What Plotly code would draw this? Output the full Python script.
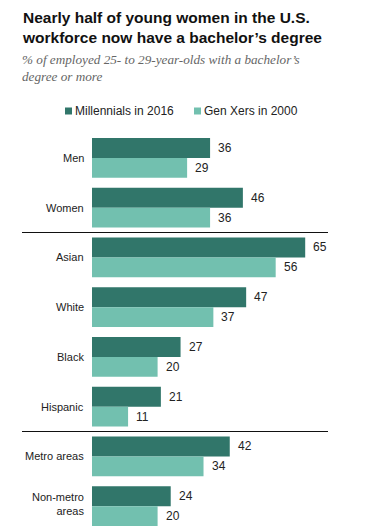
import plotly.graph_objects as go

# ---- data ----
categories = ["Men", "Women", "Asian", "White", "Black", "Hispanic",
              "Metro areas", "Non-metro<br>areas"]
millennials_2016 = [36, 46, 65, 47, 27, 21, 42, 24]
genx_2000 = [29, 36, 56, 37, 20, 11, 34, 20]
series_names = ["Millennials in 2016", "Gen Xers in 2000"]
separators_after = [1, 5]  # index of category after which a rule is drawn

title_text = "Nearly half of young women in the U.S.<br>workforce now have a bachelor’s degree"
subtitle_text = "% of employed 25- to 29-year-olds with a bachelor’s<br>degree or more"

# ---- style ----
colors = ["#31766a", "#72c0af"]
OFF = 8  # page body margin
W, H = 374 - OFF, 531 - OFF
L, T = 92 - OFF, 133 - OFF
PW, PH = W - L, H - T
PX_PER_UNIT = 3.28
SANS = "Liberation Sans, Arial, sans-serif"
SERIF = "Liberation Serif, Georgia, serif"


def px_x(p):
    return (p - OFF - L) / PW


def px_y(p):
    return (H - (p - OFF)) / PH


fig = go.Figure()
series_vals = [millennials_2016, genx_2000]
for name, vals, c in zip(series_names, series_vals, colors):
    fig.add_trace(go.Bar(
        y=categories, x=vals, name=name, orientation="h",
        marker=dict(color=c, line=dict(width=0)), hoverinfo="skip"))

annotations = []
# value labels
for j, vals in enumerate(series_vals):
    for cat, v in zip(categories, vals):
        annotations.append(dict(
            x=v, y=cat, xref="x", yref="y", text=str(v), showarrow=False,
            xanchor="left", yanchor="middle", xshift=6,
            yshift=10 if j == 0 else -10,
            font=dict(family=SANS, size=12, color="#222222")))
# category labels
for cat in categories:
    annotations.append(dict(
        x=0, y=cat, xref="paper", yref="y", text=cat, showarrow=False,
        xanchor="right", yanchor="middle", xshift=-6, align="right",
        yshift=2 if "<br>" in cat else 0,
        font=dict(family=SANS, size=11, color="#222222")))
# title and subtitle
annotations.append(dict(
    x=px_x(20), y=px_y(7), xref="paper", yref="paper", text="<b>" + title_text + "</b>",
    showarrow=False, xanchor="left", yanchor="top", align="left",
    font=dict(family=SANS, size=15.5, color="#111111")))
annotations.append(dict(
    x=px_x(20), y=px_y(50), xref="paper", yref="paper", text="<i>" + subtitle_text + "</i>",
    showarrow=False, xanchor="left", yanchor="top", align="left",
    font=dict(family=SERIF, size=13.2, color="#666666")))

shapes = []
# legend
legend_x = [65, 194]
for name, c, lx in zip(series_names, colors, legend_x):
    shapes.append(dict(type="rect", xref="paper", yref="paper",
                       x0=px_x(lx), x1=px_x(lx + 7), y0=px_y(114.5), y1=px_y(107.5),
                       fillcolor=c, line=dict(width=0)))
    annotations.append(dict(
        x=px_x(lx + 8), y=px_y(111), xref="paper", yref="paper", text=name,
        showarrow=False, xanchor="left", yanchor="middle",
        font=dict(family=SANS, size=12, color="#222222")))
# separator rules
for s in separators_after:
    shapes.append(dict(type="line", xref="paper", yref="y",
                       x0=px_x(22), x1=px_x(328), y0=s + 0.5, y1=s + 0.5,
                       line=dict(color="#111111", width=1)))

fig.update_layout(
    width=W, height=H, margin=dict(l=L, r=0, t=T, b=0),
    barmode="group", bargap=0.2, bargroupgap=0, showlegend=False,
    plot_bgcolor="white", paper_bgcolor="white",
    xaxis=dict(range=[0, PW / PX_PER_UNIT], visible=False),
    yaxis=dict(range=[len(categories) - 0.5, -0.5], showticklabels=False,
               showgrid=False, zeroline=False, showline=False, ticks=""),
    annotations=annotations, shapes=shapes)

fig.write_html("out.html")
